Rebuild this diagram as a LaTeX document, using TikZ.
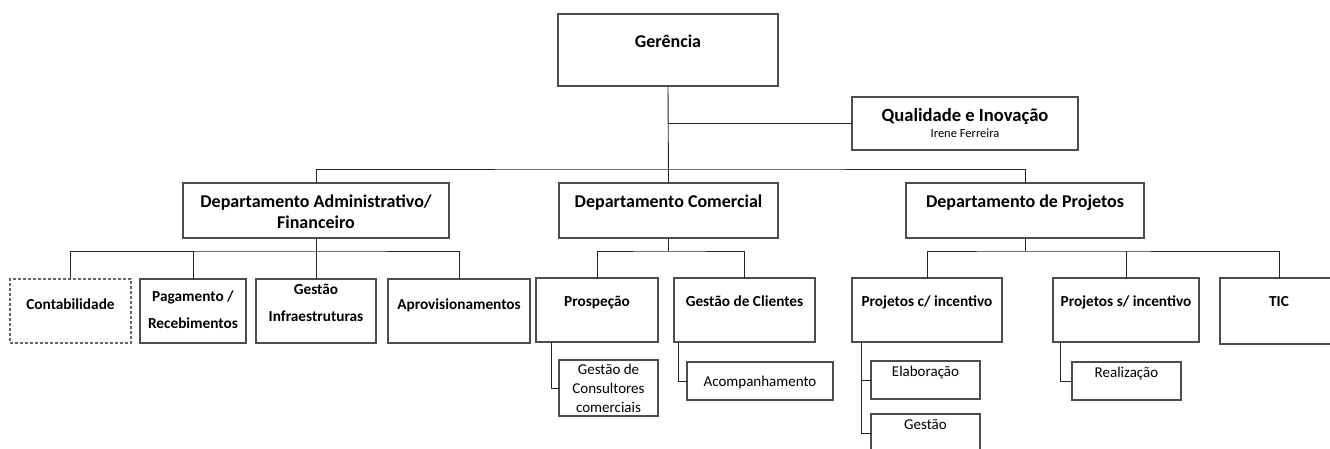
\documentclass[tikz,border=0pt]{standalone}
\usepackage{fontspec}
\setmainfont{Carlito}
\usepackage{tikz}
\tikzset{org/.style={draw=black!70, line width=1.1pt, inner sep=0pt, outer sep=0pt, anchor=north west}}
\tikzset{orgD/.style={org, draw=black!60, dash pattern=on 3pt off 2pt}}
\tikzset{lnk/.style={draw=black!85, line width=0.9pt}}
% box text: width, height, first baseline, font, text
\newcommand{\btxt}[5]{\parbox[c][#2pt][t]{#1pt}{\centering#4\rule{0pt}{#3pt}#5\par}}
\newcommand{\hdf}{\fontsize{18}{21}\selectfont\bfseries}
\newcommand{\chf}{\fontsize{15.3}{27}\selectfont\bfseries}
\newcommand{\sbf}{\fontsize{15}{19}\selectfont}

\begin{document}
\begin{tikzpicture}[x=1pt,y=-1pt]
\fill[white] (0,0) rectangle (1330,448);
\useasboundingbox (0,0) rectangle (1330,448);
% top
\node[org] (ger) at (558,14) {\btxt{220}{72}{33}{\hdf}{Gerência}};
\node[org] (qual) at (852,97) {\btxt{226}{53}{24}{\fontsize{18.6}{22}\selectfont\bfseries}{Qualidade e Inovação\par\mdseries\fontsize{12.5}{16}\selectfont Irene Ferreira}};
% departments
\node[org] (adm) at (183,183) {\btxt{266}{55}{24}{\hdf}{Departamento Administrativo/\\Financeiro}};
\node[org] (com) at (559,183) {\btxt{219}{55}{24}{\hdf}{Departamento Comercial}};
\node[org] (proj) at (906,183) {\btxt{238}{55}{24}{\hdf}{Departamento de Projetos}};
% sections
\node[orgD] (cont) at (10,279) {\btxt{121}{64}{30}{\chf}{Contabilidade}};
\foreach \n/\x/\w/\b/\t in {pag/140/106/22/{Pagamento /\\Recebimentos},gi/256/120/15/{Gestão\\Infraestruturas},aprov/388/142/30/{Aprovisionamentos}}{
\node[org] (\n) at (\x,279) {\btxt{\w}{64}{\b}{\chf}{\t}};
}
\foreach \n/\x/\w/\h/\t in {pros/536/122/64/{Prospeção},gcl/674/141/64/{Gestão de Clientes},pci/852/150/64/{Projetos c/ incentivo},psi/1053/146/64/{Projetos s/ incentivo},tic/1220/118/66/{TIC}}{
\node[org] (\n) at (\x,278) {\btxt{\w}{\h}{28}{\chf}{\t}};
}
% units
\node[org] (gcc) at (559,360) {\btxt{99}{56}{14}{\sbf}{Gestão de\\Consultores\\comerciais}};
\node[org] (acp) at (687,362) {\btxt{146}{38}{24}{\sbf}{Acompanhamento}};
\node[org] (elab) at (871,361) {\btxt{109}{38}{15}{\sbf}{Elaboração}};
\node[org] (gst) at (871,414) {\btxt{109}{38}{15}{\sbf}{Gestão}};
\node[org] (real) at (1072,362) {\btxt{109}{38}{15}{\sbf}{Realização}};
% links
\coordinate (b0) at (669,169);
\coordinate (b1) at (316,251);
\draw[lnk] (ger.south) -- (com.north);
\draw[lnk] (ger.south |- qual.west) -- (qual.west);
\draw[lnk] (adm.north) |- (b0) -| (proj.north);
\draw[lnk] (adm.south) -- (gi.north);
\draw[lnk] (cont.north) |- (b1) -| (aprov.north);
\draw[lnk] (pag.north) -- (pag.north |- b1);
\draw[lnk] (com.south) -- (com.south |- b1);
\draw[lnk] (pros.north) |- (com.south |- b1) -| (gcl.north);
\draw[lnk] (proj.south) -- (proj.south |- b1);
\draw[lnk] (pci.north) |- (proj.south |- b1) -| (tic.north);
\draw[lnk] (psi.north) -- (psi.north |- b1);
\draw[lnk] ([xshift=15pt]pros.south west) |- (gcc.west);
\draw[lnk] ([xshift=4pt]gcl.south west) |- (acp.west);
\draw[lnk] ([xshift=9pt]pci.south west) |- (elab.west);
\draw[lnk] ([xshift=9pt]pci.south west) |- (gst.west);
\draw[lnk] ([xshift=7pt]psi.south west) |- (real.west);
\end{tikzpicture}
\end{document}
